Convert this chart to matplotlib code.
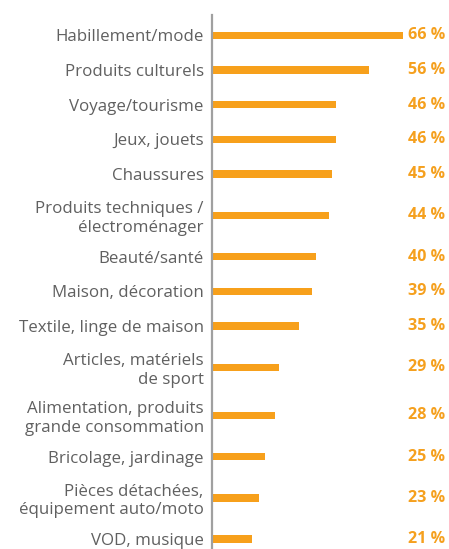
import numpy as np
import matplotlib
matplotlib.use("Agg")
import matplotlib.pyplot as plt

plt.rcParams['font.family'] = ['Open Sans', 'DejaVu Sans']

categories = [
    "Habillement/mode",
    "Produits culturels",
    "Voyage/tourisme",
    "Jeux, jouets",
    "Chaussures",
    "Produits techniques /\nélectroménager",
    "Beauté/santé",
    "Maison, décoration",
    "Textile, linge de maison",
    "Articles, matériels\nde sport",
    "Alimentation, produits\ngrande consommation",
    "Bricolage, jardinage",
    "Pièces détachées,\néquipement auto/moto",
    "VOD, musique",
]
values = [66, 56, 46, 46, 45, 44, 40, 39, 35, 29, 28, 25, 23, 21]

bar_color = "#F7A01B"
text_color = "#F5A01E"
label_color = "#606060"

# row spacing grows with the number of lines in the neighbouring labels
nlines = [c.count("\n") + 1 for c in categories]
ypos = [0.0]
for a, b in zip(nlines[:-1], nlines[1:]):
    ypos.append(ypos[-1] + 34.7 + 6.6 * (a + b - 2))
ypos = np.array(ypos)

fig = plt.figure(figsize=(4.49, 5.49), dpi=100)
ax = fig.add_axes([212 / 449, 0, 237 / 449, 534 / 549])

ax.barh(ypos, values, height=7.5, color=bar_color)
ax.set_xlim(9.1, 79.85)
ax.set_ylim(513.7, -20.3)

ax.set_yticks(ypos)
ax.set_yticklabels(categories, fontsize=12.2, color=label_color, linespacing=1.2)
ax.tick_params(axis='y', length=0, pad=6)
ax.set_xticks([])

for y, v in zip(ypos, values):
    ax.text(0.985, y, f"{v} %", transform=ax.get_yaxis_transform(),
            ha='right', va='center', fontsize=11.6, fontweight='bold',
            color=text_color)

for s in ['top', 'right', 'bottom']:
    ax.spines[s].set_visible(False)
ax.spines['left'].set_color("#a0a0a0")
ax.spines['left'].set_linewidth(1.6)

fig.savefig("out.png", dpi=100, facecolor='white')
